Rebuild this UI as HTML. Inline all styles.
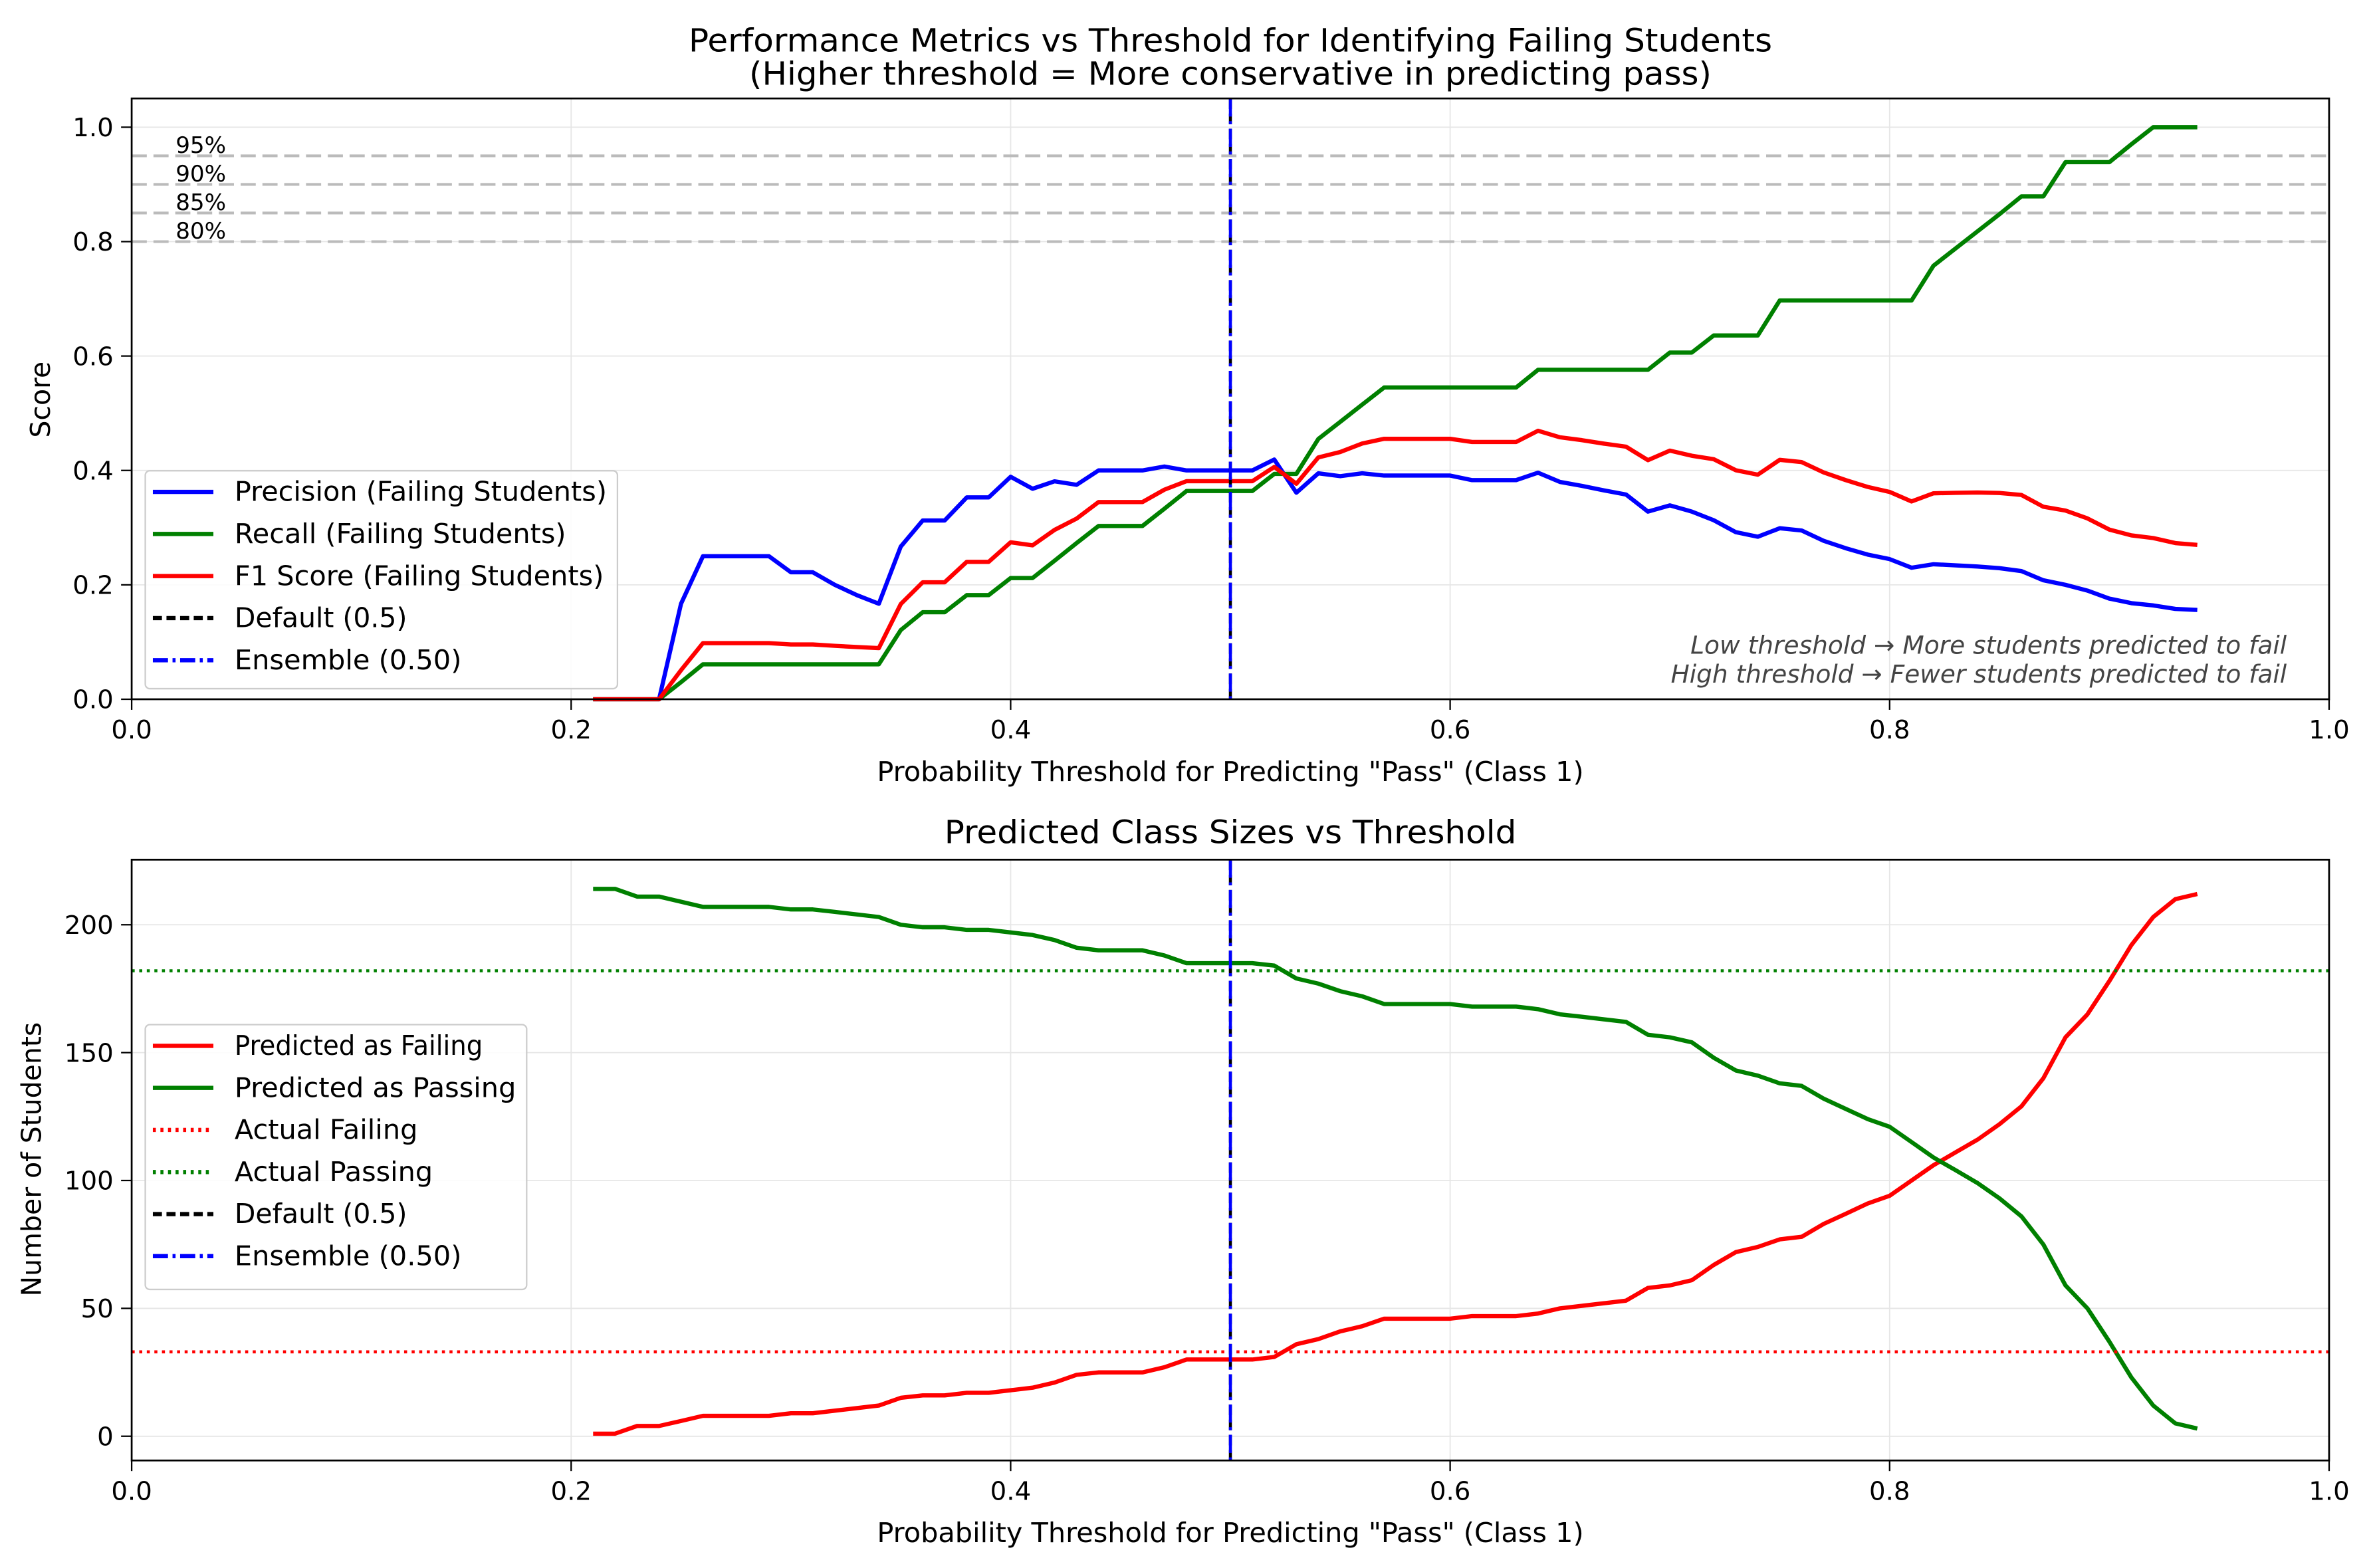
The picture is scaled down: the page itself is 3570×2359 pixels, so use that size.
<!DOCTYPE html>
<html><head><meta charset="utf-8"><style>html,body{margin:0;padding:0;background:#fff}svg{display:block}text{font-family:"DejaVu Sans","Liberation Sans",sans-serif}</style></head>
<body>
<svg id="chart" width="3570" height="2359" viewBox="0 0 1568 1036" xmlns="http://www.w3.org/2000/svg">
<rect width="1568" height="1036" fill="#fff"/>
</svg>
<script>
const thresholds = [];
for (let i = 21; i <= 94; i++) thresholds.push(i / 100);
const precision = [0,0,0,0,0.167,0.25,0.25,0.25,0.25,0.222,0.222,0.2,0.182,0.167,0.267,0.3125,0.3125,0.353,0.353,0.389,0.368,0.381,0.375,0.4,0.4,0.4,0.407,0.4,0.4,0.4,0.4,0.419,0.361,0.395,0.39,0.395,0.391,0.391,0.391,0.391,0.383,0.383,0.383,0.396,0.38,0.373,0.365,0.358,0.328,0.339,0.328,0.313,0.292,0.284,0.299,0.295,0.277,0.264,0.253,0.245,0.23,0.236,0.234,0.232,0.229,0.224,0.208,0.2,0.19,0.176,0.168,0.164,0.158,0.156];
const recall = [0,0,0,0,0.03,0.061,0.061,0.061,0.061,0.061,0.061,0.061,0.061,0.061,0.121,0.152,0.152,0.182,0.182,0.212,0.212,0.242,0.273,0.303,0.303,0.303,0.333,0.364,0.364,0.364,0.364,0.394,0.394,0.455,0.485,0.515,0.545,0.545,0.545,0.545,0.545,0.545,0.545,0.576,0.576,0.576,0.576,0.576,0.576,0.606,0.606,0.636,0.636,0.636,0.697,0.697,0.697,0.697,0.697,0.697,0.697,0.758,0.788,0.818,0.848,0.879,0.879,0.939,0.939,0.939,0.97,1,1,1];
const predFailing = [1,1,4,4,6,8,8,8,8,9,9,10,11,12,15,16,16,17,17,18,19,21,24,25,25,25,27,30,30,30,30,31,36,38,41,43,46,46,46,46,47,47,47,48,50,51,52,53,58,59,61,67,72,74,77,78,83,87,91,94,100,106,111,116,122,129,140,156,165,178,192,203,210,212];
const totalStudents = 215;
const actualFailing = 33;
const actualPassing = 182;
const refLines = [0.8, 0.85, 0.9, 0.95];
const refLabels = ["80%", "85%", "90%", "95%"];
const xTicks = [0, 0.2, 0.4, 0.6, 0.8, 1.0];
const xTickLabels = ["0.0", "0.2", "0.4", "0.6", "0.8", "1.0"];
const yTicksTop = [0, 0.2, 0.4, 0.6, 0.8, 1.0];
const yTickLabelsTop = ["0.0", "0.2", "0.4", "0.6", "0.8", "1.0"];
const yTicksBot = [0, 50, 100, 150, 200];
const yTickLabelsBot = ["0", "50", "100", "150", "200"];

const f1 = precision.map((p, i) => (p + recall[i]) > 0 ? 2 * p * recall[i] / (p + recall[i]) : 0);
const predPassing = predFailing.map(v => totalStudents - v);

const svg = document.getElementById('chart');
const NS = 'http://www.w3.org/2000/svg';
function el(tag, attrs, parent) {
  const e = document.createElementNS(NS, tag);
  for (const k in attrs) e.setAttribute(k, attrs[k]);
  (parent || svg).appendChild(e);
  return e;
}
function txt(s, attrs, parent) { const t = el('text', attrs, parent); t.textContent = s; return t; }

const L = 87, R = 1539;
const xS = v => L + v * (R - L);
const topP = { t: 65, b: 462, y: v => 462 - v * 378 };
const botP = { t: 568, b: 965, y: v => 949 - v * 1.69 };

function axes(p, yTicks, yLabels, name) {
  const g = el('g', {});
  
  
  xTicks.forEach((v, i) => {
    el('line', { x1: xS(v), x2: xS(v), y1: p.t, y2: p.b, stroke: '#e6e6e6', 'stroke-width': 0.8 }, g);
    el('line', { x1: xS(v), x2: xS(v), y1: p.b, y2: p.b + 7, stroke: '#000', 'stroke-width': 1 }, g);
    const t = txt(xTickLabels[i], { x: xS(v), y: p.b + 26, 'font-size': 17, 'text-anchor': 'middle' }, g);
    
    
  });
  yTicks.forEach((v, i) => {
    el('line', { x1: L, x2: R, y1: p.y(v), y2: p.y(v), stroke: '#e6e6e6', 'stroke-width': 0.8 }, g);
    el('line', { x1: L - 7, x2: L, y1: p.y(v), y2: p.y(v), stroke: '#000', 'stroke-width': 1 }, g);
    const t = txt(yLabels[i], { x: L - 12, y: p.y(v) + 6, 'font-size': 17, 'text-anchor': 'end' }, g);
    
    
  });
  return g;
}
function frame(p) { el('rect', { x: L, y: p.t, width: R - L, height: p.b - p.t, fill: 'none', stroke: '#000', 'stroke-width': 1.2 }); }
function series(xs, ys, p, color, name, dash) {
  const pts = xs.map((x, i) => xS(x).toFixed(1) + ',' + p.y(ys[i]).toFixed(1)).join(' ');
  const a = { points: pts, fill: 'none', stroke: color, 'stroke-width': 2.8, 'stroke-linejoin': 'round' };
  if (dash) a['stroke-dasharray'] = dash;
  const e = el('polyline', a);
  
  
}
function vlines(p) {
  let e = el('line', { x1: xS(0.5), x2: xS(0.5), y1: p.t, y2: p.b, stroke: '#000', 'stroke-width': 2, 'stroke-dasharray': '7,3' });
  
  
  e = el('line', { x1: xS(0.5), x2: xS(0.5), y1: p.t, y2: p.b, stroke: '#0000ff', 'stroke-width': 2, 'stroke-dasharray': '12,3,2,3' });
  
  
}
function legend(x, y, w, h, items, name) {
  const g = el('g', {});
  
  
  el('rect', { x, y, width: w, height: h, rx: 3, fill: '#fff', 'fill-opacity': 0.85, stroke: '#ccc' }, g);
  items.forEach((it, i) => {
    const yy = y + 14 + i * 27.8;
    const a = { x1: x + 5, x2: x + 45, y1: yy, y2: yy, stroke: it[1], 'stroke-width': 2.8 };
    if (it[2]) a['stroke-dasharray'] = it[2];
    el('line', a, g);
    const t = txt(it[0], { x: x + 59, y: yy + 6, 'font-size': 18, textLength: it[3], lengthAdjust: 'spacingAndGlyphs' }, g);
    
    
  });
}

// Top panel
axes(topP, yTicksTop, yTickLabelsTop, 'top');
refLines.forEach((v, i) => {
  const l = el('line', { x1: L, x2: R, y1: topP.y(v), y2: topP.y(v), stroke: '#bbbbbb', 'stroke-width': 1.8, 'stroke-dasharray': '10,4.4' });
  
  
  const t = txt(refLabels[i], { x: xS(0.02), y: topP.y(v) - 2, 'font-size': 15 });
  
  
});
series(thresholds, precision, topP, '#0000ff', 'precision-line');
series(thresholds, recall, topP, '#008000', 'recall-line');
series(thresholds, f1, topP, '#ff0000', 'f1-line');
vlines(topP);
frame(topP);
legend(96, 311, 312, 144, [['Precision (Failing Students)', '#0000ff', null, 246], ['Recall (Failing Students)', '#008000', null, 219], ['F1 Score (Failing Students)', '#ff0000', null, 244], ['Default (0.5)', '#000', '6,3', 114], ['Ensemble (0.50)', '#0000ff', '10,3,2,3', 150]].map(a => a[3] ? a : a), 'top-legend');
let t;
t = txt('Low threshold → More students predicted to fail', { x: 1511, y: 432, 'font-size': 16.5, 'font-style': 'italic', fill: '#444', 'text-anchor': 'end', textLength: 394, lengthAdjust: 'spacingAndGlyphs' });
 
t = txt('High threshold → Fewer students predicted to fail', { x: 1511, y: 451, 'font-size': 16.5, 'font-style': 'italic', fill: '#444', 'text-anchor': 'end', textLength: 407, lengthAdjust: 'spacingAndGlyphs' });
 
t = txt('Performance Metrics vs Threshold for Identifying Failing Students', { x: 813, y: 34, 'font-size': 21, 'text-anchor': 'middle', textLength: 716, lengthAdjust: 'spacingAndGlyphs' });
 
t = txt('(Higher threshold = More conservative in predicting pass)', { x: 813, y: 56, 'font-size': 21, 'text-anchor': 'middle', textLength: 636, lengthAdjust: 'spacingAndGlyphs' });
 
t = txt('Score', { x: 33, y: 264, 'font-size': 18, 'text-anchor': 'middle', transform: 'rotate(-90 33 264)' });
 
t = txt('Probability Threshold for Predicting "Pass" (Class 1)', { x: 813, y: 516, 'font-size': 18, 'text-anchor': 'middle', textLength: 467, lengthAdjust: 'spacingAndGlyphs' });
 

// Bottom panel
axes(botP, yTicksBot, yTickLabelsBot, 'bottom');
series(thresholds, predFailing, botP, '#ff0000', 'predicted-failing-line');
series(thresholds, predPassing, botP, '#008000', 'predicted-passing-line');
let h = el('line', { x1: L, x2: R, y1: botP.y(actualFailing), y2: botP.y(actualFailing), stroke: '#ff0000', 'stroke-width': 2, 'stroke-dasharray': '2,3' });
 
h = el('line', { x1: L, x2: R, y1: botP.y(actualPassing), y2: botP.y(actualPassing), stroke: '#008000', 'stroke-width': 2, 'stroke-dasharray': '2,3' });
 
vlines(botP);
frame(botP);
legend(96, 677, 252, 175, [['Predicted as Failing', '#ff0000', null, 164], ['Predicted as Passing', '#008000', null, 186], ['Actual Failing', '#ff0000', '2,3', 121], ['Actual Passing', '#008000', '2,3', 131], ['Default (0.5)', '#000', '6,3', 114], ['Ensemble (0.50)', '#0000ff', '10,3,2,3', 150]], 'bottom-legend');
t = txt('Predicted Class Sizes vs Threshold', { x: 813, y: 557, 'font-size': 21, 'text-anchor': 'middle', textLength: 378, lengthAdjust: 'spacingAndGlyphs' });
 
t = txt('Number of Students', { x: 27, y: 766, 'font-size': 18, 'text-anchor': 'middle', transform: 'rotate(-90 27 766)' });
 
t = txt('Probability Threshold for Predicting "Pass" (Class 1)', { x: 813, y: 1019, 'font-size': 18, 'text-anchor': 'middle', textLength: 467, lengthAdjust: 'spacingAndGlyphs' });
 
</script>
</body></html>
